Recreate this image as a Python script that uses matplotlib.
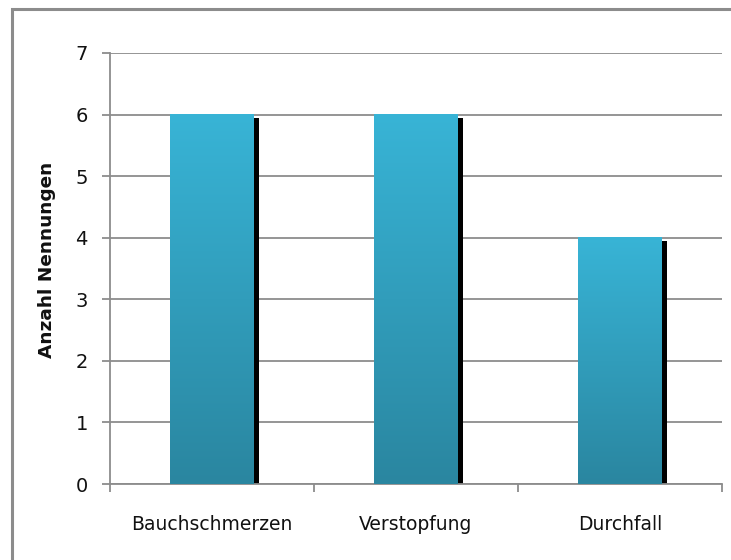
import matplotlib
matplotlib.use("Agg")
import matplotlib.pyplot as plt
import numpy as np
from matplotlib.colors import LinearSegmentedColormap
from matplotlib.patches import Rectangle

categories = ["Bauchschmerzen", "Verstopfung", "Durchfall"]
values = [6, 6, 4]
y_label = "Anzahl Nennungen"
y_ticks = [0, 1, 2, 3, 4, 5, 6, 7]

plt.rcParams['font.family'] = ['DejaVu Sans']

fig = plt.figure(figsize=(7.31, 5.6), dpi=100)
W, H = 731, 560
ax = fig.add_axes([110 / W, 1 - 484 / H, (722 - 110) / W, (484 - 53) / H])

# outer border
fig.add_artist(Rectangle((11.5 / W, -0.1), 1.2, 1 - 8.5 / H + 0.1, transform=fig.transFigure,
                         fill=False, edgecolor="#8c8c8c", linewidth=2.2))

ax.set_xlim(-0.5, len(categories) - 0.5)
ax.set_ylim(0, 7)
ax.set_yticks(y_ticks)
ax.yaxis.grid(True, color="#8c8c8c", linewidth=1.3)
ax.set_axisbelow(True)

cmap = LinearSegmentedColormap.from_list("g", ["#2A86A0", "#38B4D6"])
grad = np.linspace(0, 1, 256).reshape(-1, 1)
bw = 0.407
dx = 0.025
dy = 0.05
for i, v in enumerate(values):
    # shadow
    ax.add_patch(Rectangle((i - bw / 2 + dx, 0), bw, v - dy, facecolor="black",
                           edgecolor="none", zorder=2))
    ax.imshow(grad, extent=(i - bw / 2, i + bw / 2, 0, v), origin="lower",
              cmap=cmap, aspect="auto", zorder=3, interpolation="bilinear")
ax.set_xlim(-0.5, len(categories) - 0.5)
ax.set_ylim(0, 7)

ax.set_xticks(np.arange(len(categories)))
ax.set_xticklabels(categories, fontsize=13.5, color="#111111")
ax.set_xticks(np.arange(len(categories) + 1) - 0.5, minor=True)
ax.tick_params(axis="x", which="major", length=0, pad=22)
ax.tick_params(axis="x", which="minor", length=6, color="#8c8c8c", width=1.3)
ax.tick_params(axis="y", length=6, color="#8c8c8c", width=1.3, labelsize=14,
               labelcolor="#111111", pad=10)

for s in ["top", "right"]:
    ax.spines[s].set_visible(False)
for s in ["left", "bottom"]:
    ax.spines[s].set_color("#8c8c8c")
    ax.spines[s].set_linewidth(1.3)

fig.text(47 / W, 1 - 260 / H, y_label, rotation=90, fontsize=13.3, fontweight="bold",
         ha="center", va="center", color="#111111")

fig.savefig("out.png", dpi=100)
